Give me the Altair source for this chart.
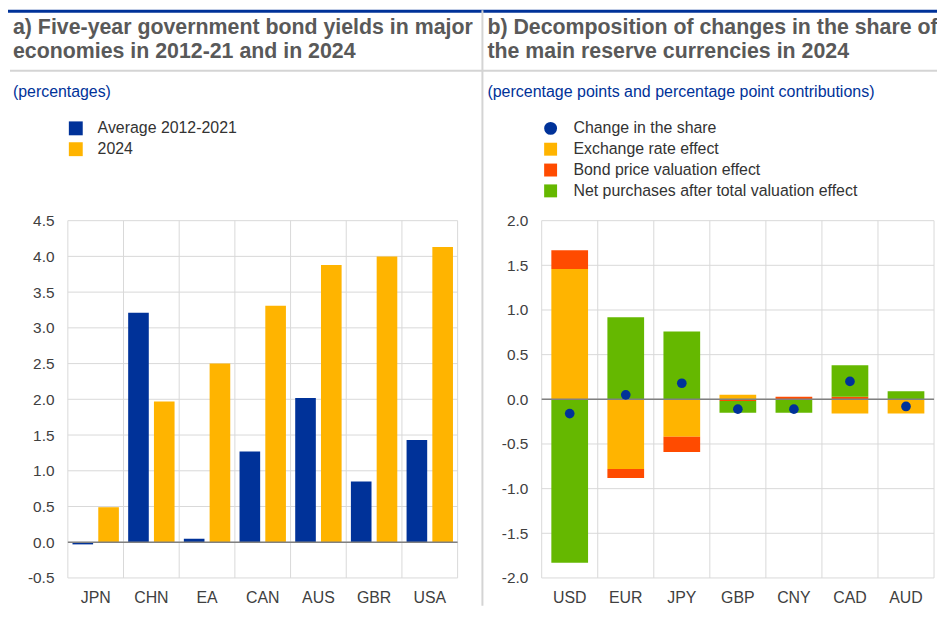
import altair as alt
import pandas as pd

# ---------------- data ----------------
countries = ["JPN", "CHN", "EA", "CAN", "AUS", "GBR", "USA"]
avg_2012_2021 = [-0.03, 3.21, 0.05, 1.27, 2.02, 0.85, 1.43]
yields_2024 = [0.49, 1.97, 2.50, 3.31, 3.88, 4.00, 4.13]
series_a = ["Average 2012-2021", "2024"]
colors_a = ["#003299", "#ffb400"]
ticks_a = [-0.5, 0.0, 0.5, 1.0, 1.5, 2.0, 2.5, 3.0, 3.5, 4.0, 4.5]

currencies = ["USD", "EUR", "JPY", "GBP", "CNY", "CAD", "AUD"]
change_in_share = [-0.16, 0.05, 0.18, -0.11, -0.11, 0.20, -0.08]
exchange_rate_effect = [1.46, -0.78, -0.42, 0.05, 0.00, -0.16, -0.16]
bond_price_effect = [0.21, -0.10, -0.17, -0.02, 0.03, 0.03, 0.00]
net_purchases_effect = [-1.83, 0.92, 0.76, -0.13, -0.15, 0.35, 0.09]
series_b = ["Change in the share", "Exchange rate effect",
            "Bond price valuation effect", "Net purchases after total valuation effect"]
colors_b = ["#003299", "#ffb400", "#ff4b00", "#65b800"]
shapes_b = ["circle", "square", "square", "square"]
ticks_b = [-2.0, -1.5, -1.0, -0.5, 0.0, 0.5, 1.0, 1.5, 2.0]

title_a = ["a) Five-year government bond yields in major", "economies in 2012-21 and in 2024"]
title_b = ["b) Decomposition of changes in the share of", "the main reserve currencies in 2024"]
subtitle_a = "(percentages)"
subtitle_b = "(percentage points and percentage point contributions)"

# ---------------- layout ----------------
W, H = 936, 600
XR_A = [60.3, 453.0]
XR_B = [537.7, 933.0]
YR = [572.0, 212.0]
GRID = "#d9d9d9"
LABEL = "#404040"
MINUS_FIX = "replace(datum.label, '\u2212', '-')"
PAD_B = 0.345            # share of each currency cell left empty around its bar

df_a = pd.DataFrame({
    "country": countries * 2,
    "series": [series_a[0]] * len(countries) + [series_a[1]] * len(countries),
    "value": avg_2012_2021 + yields_2024,
})

rows = []
for i, c in enumerate(currencies):
    for k, (name, vals) in enumerate(zip(series_b[1:], [exchange_rate_effect, bond_price_effect, net_purchases_effect])):
        rows.append({"currency": c, "series": name, "value": vals[i], "ord": k})
df_b = pd.DataFrame(rows)
df_pts = pd.DataFrame({"currency": currencies, "value": change_in_share,
                       "series": [series_b[0]] * len(currencies)})
one = pd.DataFrame({"d": [0]})


def x_axis():
    return alt.Axis(orient="bottom", offset=YR[0] - H, title=None, labelAngle=0,
                    labelFontSize=16, labelPadding=12, labelColor=LABEL, ticks=False,
                    domain=False, grid=False)


def y_axis(offset, values):
    return alt.Axis(orient="left", offset=offset, title=None, values=values, format=".1f",
                    labelExpr=MINUS_FIX, labelFontSize=15.5, labelPadding=14,
                    labelColor=LABEL, ticks=False, domain=False, grid=False)


def hgrid(ys, yax, xr, yticks):
    return alt.Chart(pd.DataFrame({"t": yticks})).mark_rule(color=GRID, strokeWidth=1).encode(
        y=alt.Y("t:Q", scale=ys, axis=yax), x=alt.value(xr[0]), x2=alt.value(xr[1]))


def vgrid(cats, field, xr, xax):
    # cell edges of the categorical axis (band starts of an unpadded band scale)
    xs = alt.Scale(domain=cats, range=xr, paddingInner=0, paddingOuter=0)
    return alt.Chart(pd.DataFrame({field: cats})).mark_rule(color=GRID, strokeWidth=1).encode(
        x=alt.X(f"{field}:N", sort=cats, bandPosition=0, scale=xs, axis=xax),
        y=alt.value(YR[1]), y2=alt.value(YR[0]))


def rborder(xr):
    return alt.Chart(one).mark_rule(color=GRID, strokeWidth=1).encode(
        x=alt.value(xr[1]), y=alt.value(YR[1]), y2=alt.value(YR[0]))


def zero_line(xr):
    return alt.Chart(one).mark_rule(color="#808080", strokeWidth=1.5).encode(
        y=alt.datum(0), x=alt.value(xr[0]), x2=alt.value(xr[1]))


# ---------------- panel a ----------------
xs_a = alt.Scale(domain=countries, range=XR_A, paddingInner=0, paddingOuter=0)
ys_a = alt.Scale(domain=[-0.5, 4.5], range=YR, nice=False, zero=False)
xax_a = x_axis()
yax_a = y_axis(-XR_A[0], ticks_a)

bars_a = alt.Chart(df_a).mark_bar().encode(
    x=alt.X("country:N", sort=countries, scale=xs_a, axis=xax_a),
    xOffset=alt.XOffset("series:N", sort=series_a,
                        scale=alt.Scale(domain=series_a, paddingInner=0.2, paddingOuter=0.18)),
    y=alt.Y("value:Q", scale=ys_a, axis=yax_a),
    color=alt.Color("series:N", scale=alt.Scale(domain=series_a, range=colors_a),
                    legend=alt.Legend(orient="none", legendX=60.3, legendY=111, title=None,
                                      symbolType="square", symbolSize=196,
                                      symbolStrokeWidth=0, labelFontSize=16,
                                      labelColor="#333333", labelOffset=14,
                                      rowPadding=5, padding=0, labelLimit=400)),
)
panel_a = alt.layer(hgrid(ys_a, yax_a, XR_A, ticks_a), vgrid(countries, "country", XR_A, xax_a),
                    rborder(XR_A), bars_a, zero_line(XR_A))

# ---------------- panel b ----------------
xs_b = alt.Scale(domain=currencies, range=XR_B, paddingInner=PAD_B, paddingOuter=PAD_B / 2)
ys_b = alt.Scale(domain=[-2.0, 2.0], range=YR, nice=False, zero=False)
xax_b = x_axis()
yax_b = y_axis(-XR_B[0], ticks_b)

bars_b = alt.Chart(df_b).mark_bar().encode(
    x=alt.X("currency:N", sort=currencies, scale=xs_b, axis=xax_b),
    y=alt.Y("value:Q", stack="zero", scale=ys_b, axis=yax_b),
    color=alt.Color("series:N", scale=alt.Scale(domain=series_b, range=colors_b), legend=None),
    order=alt.Order("ord:Q"),
)
legend_b = alt.Legend(orient="none", legendX=538.7, legendY=111, title=None,
                      symbolSize=170, symbolStrokeWidth=0, labelFontSize=16,
                      labelColor="#333333", labelOffset=15, rowPadding=5,
                      padding=0, labelLimit=400)
pts_b = alt.Chart(df_pts).mark_point(filled=True, size=95, opacity=1, strokeWidth=0).encode(
    x=alt.X("currency:N", sort=currencies, scale=xs_b, axis=None),
    y=alt.Y("value:Q", scale=ys_b, axis=yax_b),
    color=alt.Color("series:N", scale=alt.Scale(domain=series_b, range=colors_b), legend=legend_b),
    shape=alt.Shape("series:N", scale=alt.Scale(domain=series_b, range=shapes_b), legend=legend_b),
)
panel_b = alt.layer(hgrid(ys_b, yax_b, XR_B, ticks_b), vgrid(currencies, "currency", XR_B, None),
                    rborder(XR_B), bars_b, zero_line(XR_B), pts_b).resolve_scale(
    x="independent", color="independent", shape="independent")

# ---------------- decorations / text ----------------
top_line = alt.Chart(one).mark_rule(color="#003299", strokeWidth=3).encode(
    x=alt.value(0), x2=alt.value(W), y=alt.value(1))
hsep = alt.Chart(one).mark_rule(color="#d4d4d4", strokeWidth=2).encode(
    x=alt.value(2), x2=alt.value(W), y=alt.value(61))
vsep = alt.Chart(one).mark_rule(color="#d4d4d4", strokeWidth=2).encode(
    x=alt.value(478), y=alt.value(0), y2=alt.value(H))

t_a = alt.Chart(one).mark_text(text=title_a, align="left", baseline="alphabetic", fontSize=21.5,
                               fontWeight="bold", color="#595959", lineHeight=24).encode(
    x=alt.value(5), y=alt.value(24))
t_b = alt.Chart(one).mark_text(text=title_b, align="left", baseline="alphabetic", fontSize=21.5,
                               fontWeight="bold", color="#595959", lineHeight=24).encode(
    x=alt.value(483), y=alt.value(24))
s_a = alt.Chart(one).mark_text(text=subtitle_a, align="left", baseline="alphabetic", fontSize=16,
                               color="#003299").encode(x=alt.value(5), y=alt.value(87))
s_b = alt.Chart(one).mark_text(text=subtitle_b, align="left", baseline="alphabetic", fontSize=16.1,
                               color="#003299").encode(x=alt.value(483), y=alt.value(87))

chart = alt.layer(panel_a, panel_b, top_line, hsep, vsep, t_a, t_b, s_a, s_b).resolve_scale(
    x="independent", y="independent", color="independent", xOffset="independent",
    shape="independent"
).properties(
    width=W, height=H, padding=0, autosize=alt.AutoSizeParams(type="none"), background="white"
).configure(font="Liberation Sans").configure_view(stroke=None)

chart.save("out.html", embed_options={"renderer": "svg", "actions": False})
